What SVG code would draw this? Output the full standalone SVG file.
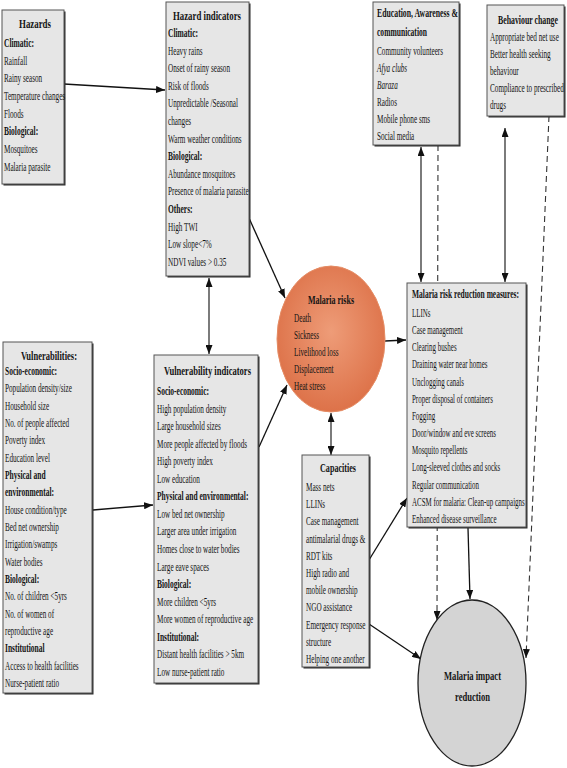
<svg xmlns="http://www.w3.org/2000/svg" width="567" height="768" viewBox="0 0 567 768">
<style>
text{font-family:"Liberation Serif","Times New Roman",serif;fill:#141414}
.t{font-size:12px}
.b{font-size:12.5px;font-weight:bold}
.i{font-style:italic}
.ttl{font-size:13px;font-weight:bold}
.box{fill:#e6e6e6;stroke:#555;stroke-width:1}
.shd{fill:#2a2a2a}
.ln{stroke:#111;stroke-width:1.3;fill:none}
.dl{stroke:#444;stroke-width:1.4;fill:none}
.ds{stroke:#333;stroke-width:1.1;fill:none;stroke-dasharray:6,4}
</style>
<defs>
<marker id="ah" markerUnits="userSpaceOnUse" markerWidth="9" markerHeight="7" refX="9" refY="3.5" orient="auto-start-reverse">
<path d="M0,0 L9,3.5 L0,7 z" fill="#111"/>
</marker>
<radialGradient id="og" cx="0.5" cy="0.45" r="0.55">
<stop offset="0" stop-color="#ee9c78"/>
<stop offset="1" stop-color="#dd7249"/>
</radialGradient>
</defs>
<rect width="567" height="768" fill="#fff"/>

<g id="connectors">
<line class="ds" x1="438" y1="145" x2="437" y2="620" marker-end="url(#ah)"/>
<line class="ds" x1="549" y1="116" x2="526" y2="658" marker-end="url(#ah)"/>
<line class="ln" x1="64" y1="84" x2="165" y2="90" marker-end="url(#ah)"/>
<line class="ln" x1="249" y1="218" x2="285" y2="298" marker-end="url(#ah)"/>
<line class="dl" x1="209" y1="278" x2="209" y2="354" marker-start="url(#ah)" marker-end="url(#ah)"/>
<line class="ln" x1="93" y1="510" x2="153" y2="505" marker-end="url(#ah)"/>
<line class="ln" x1="259" y1="447" x2="287" y2="385" marker-end="url(#ah)"/>
<line class="ln" x1="385" y1="341" x2="406" y2="340" marker-end="url(#ah)"/>
<line class="dl" x1="331" y1="413" x2="331" y2="455" marker-start="url(#ah)" marker-end="url(#ah)"/>
<line class="dl" x1="421" y1="147" x2="421" y2="282" marker-start="url(#ah)" marker-end="url(#ah)"/>
<line class="dl" x1="505" y1="128" x2="505" y2="282" marker-start="url(#ah)" marker-end="url(#ah)"/>
<line class="ln" x1="369" y1="560" x2="407" y2="498" marker-end="url(#ah)"/>
<line class="ln" x1="369" y1="624" x2="421" y2="659" marker-end="url(#ah)"/>
<line class="ln" x1="468" y1="528" x2="470" y2="599" marker-end="url(#ah)"/>
</g>

<g id="hazards">
<rect class="shd" x="3.5" y="11.5" width="62" height="174"/>
<rect class="box" x="2" y="10" width="62" height="174"/>
<g transform="translate(19,0) scale(0.6,1)"><text class="ttl" x="0" y="28" textLength="53.3" lengthAdjust="spacingAndGlyphs">Hazards</text></g>
<g transform="translate(4,0) scale(0.6,1)">
<text class="b" x="0" y="47">Climatic:</text>
<text class="t" x="0" y="64.7">Rainfall</text>
<text class="t" x="0" y="82.4">Rainy season</text>
<text class="t" x="0" y="100.1">Temperature changes</text>
<text class="t" x="0" y="117.8">Floods</text>
<text class="b" x="0" y="135.5">Biological:</text>
<text class="t" x="0" y="153.2">Mosquitoes</text>
<text class="t" x="0" y="170.9">Malaria parasite</text>
</g>
</g>

<g id="hazard-indicators">
<rect class="shd" x="167.5" y="3.5" width="83" height="274"/>
<rect class="box" x="166" y="2" width="83" height="274"/>
<g transform="translate(173,0) scale(0.6,1)"><text class="ttl" x="0" y="20" textLength="113.3" lengthAdjust="spacingAndGlyphs">Hazard indicators</text></g>
<g transform="translate(168,0) scale(0.6,1)">
<text class="b" x="0" y="37">Climatic:</text>
<text class="t" x="0" y="54.6">Heavy rains</text>
<text class="t" x="0" y="72.2">Onset of rainy season</text>
<text class="t" x="0" y="89.8">Risk of floods</text>
<text class="t" x="0" y="107.4">Unpredictable /Seasonal</text>
<text class="t" x="0" y="125">changes</text>
<text class="t" x="0" y="142.6">Warm weather conditions</text>
<text class="b" x="0" y="160.2">Biological:</text>
<text class="t" x="0" y="177.8">Abundance mosquitoes</text>
<text class="t" x="0" y="195.4">Presence of malaria parasite</text>
<text class="b" x="0" y="213">Others:</text>
<text class="t" x="0" y="230.6">High TWI</text>
<text class="t" x="0" y="248.2">Low slope&lt;7%</text>
<text class="t" x="0" y="265.8">NDVI values &gt; 0.35</text>
</g>
</g>

<g id="education">
<rect class="shd" x="374.5" y="3.5" width="86" height="143"/>
<rect class="box" x="373" y="2" width="86" height="143"/>
<g transform="translate(377,0) scale(0.6,1)">
<text class="ttl" x="0" y="17" textLength="135" lengthAdjust="spacingAndGlyphs">Education, Awareness &amp;</text>
<text class="ttl" x="0" y="36" textLength="83.3" lengthAdjust="spacingAndGlyphs">communication</text>
<text class="t" x="0" y="55">Community volunteers</text>
<text class="t i" x="0" y="72.1">Afya clubs</text>
<text class="t i" x="0" y="89.2">Baraza</text>
<text class="t" x="0" y="106.3">Radios</text>
<text class="t" x="0" y="123.4">Mobile phone sms</text>
<text class="t" x="0" y="140.5">Social media</text>
</g>
</g>

<g id="behaviour-change">
<rect class="shd" x="488.5" y="6.5" width="77" height="111"/>
<rect class="box" x="487" y="5" width="77" height="111"/>
<g transform="translate(498,0) scale(0.6,1)"><text class="ttl" x="0" y="24" textLength="100" lengthAdjust="spacingAndGlyphs">Behaviour change</text></g>
<g transform="translate(490,0) scale(0.6,1)">
<text class="t" x="0" y="41">Appropriate bed net use</text>
<text class="t" x="0" y="58">Better health seeking</text>
<text class="t" x="0" y="75">behaviour</text>
<text class="t" x="0" y="92">Compliance to prescribed</text>
<text class="t" x="0" y="109">drugs</text>
</g>
</g>

<g id="vulnerabilities">
<rect class="shd" x="4.5" y="343.5" width="89" height="351"/>
<rect class="box" x="3" y="342" width="89" height="351"/>
<g transform="translate(21,0) scale(0.6,1)"><text class="ttl" x="0" y="360" textLength="93.3" lengthAdjust="spacingAndGlyphs">Vulnerabilities:</text></g>
<g transform="translate(5,0) scale(0.6,1)">
<text class="b" x="0" y="375">Socio-economic:</text>
<text class="t" x="0" y="392.3">Population density/size</text>
<text class="t" x="0" y="409.7">Household size</text>
<text class="t" x="0" y="427">No. of people affected</text>
<text class="t" x="0" y="444.3">Poverty index</text>
<text class="t" x="0" y="461.7">Education level</text>
<text class="b" x="0" y="479">Physical and</text>
<text class="b" x="0" y="496.3">environmental:</text>
<text class="t" x="0" y="513.6">House condition/type</text>
<text class="t" x="0" y="531">Bed net ownership</text>
<text class="t" x="0" y="548.3">Irrigation/swamps</text>
<text class="t" x="0" y="565.6">Water bodies</text>
<text class="b" x="0" y="583">Biological:</text>
<text class="t" x="0" y="600.3">No. of children &lt;5yrs</text>
<text class="t" x="0" y="617.6">No. of women of</text>
<text class="t" x="0" y="635">reproductive age</text>
<text class="b" x="0" y="652.3">Institutional</text>
<text class="t" x="0" y="669.6">Access to health facilities</text>
<text class="t" x="0" y="687">Nurse-patient ratio</text>
</g>
</g>

<g id="vulnerability-indicators">
<rect class="shd" x="155.5" y="356.5" width="104" height="328"/>
<rect class="box" x="154" y="355" width="104" height="328"/>
<g transform="translate(164,0) scale(0.6,1)"><text class="ttl" x="0" y="375" textLength="145" lengthAdjust="spacingAndGlyphs">Vulnerability indicators</text></g>
<g transform="translate(157,0) scale(0.6,1)">
<text class="b" x="0" y="395">Socio-economic:</text>
<text class="t" x="0" y="412.6">High population density</text>
<text class="t" x="0" y="430.1">Large household sizes</text>
<text class="t" x="0" y="447.7">More people affected by floods</text>
<text class="t" x="0" y="465.2">High poverty index</text>
<text class="t" x="0" y="482.8">Low education</text>
<text class="b" x="0" y="500.4">Physical and environmental:</text>
<text class="t" x="0" y="517.9">Low bed net ownership</text>
<text class="t" x="0" y="535.5">Larger area under irrigation</text>
<text class="t" x="0" y="553">Homes close to water bodies</text>
<text class="t" x="0" y="570.6">Large eave spaces</text>
<text class="b" x="0" y="588.2">Biological:</text>
<text class="t" x="0" y="605.7">More children &lt;5yrs</text>
<text class="t" x="0" y="623.3">More women of reproductive age</text>
<text class="b" x="0" y="640.8">Institutional:</text>
<text class="t" x="0" y="658.4">Distant health facilities &gt; 5km</text>
<text class="t" x="0" y="676">Low nurse-patient ratio</text>
</g>
</g>

<g id="malaria-risks">
<ellipse cx="331" cy="339" rx="54" ry="73" fill="url(#og)" stroke="#e58c64" stroke-width="1"/>
<g transform="translate(308,0) scale(0.6,1)"><text class="ttl" x="0" y="304" textLength="76.7" lengthAdjust="spacingAndGlyphs">Malaria risks</text></g>
<g transform="translate(294,0) scale(0.6,1)">
<text class="t" x="0" y="322">Death</text>
<text class="t" x="0" y="339">Sickness</text>
<text class="t" x="0" y="356">Livelihood loss</text>
<text class="t" x="0" y="373">Displacement</text>
<text class="t" x="0" y="390">Heat stress</text>
</g>
</g>

<g id="risk-reduction-measures">
<rect class="shd" x="408.5" y="284.5" width="119" height="244"/>
<rect class="box" x="407" y="283" width="119" height="244"/>
<g transform="translate(412,0) scale(0.6,1)"><text class="ttl" x="0" y="298" textLength="178.3" lengthAdjust="spacingAndGlyphs">Malaria risk reduction measures:</text></g>
<g transform="translate(412,0) scale(0.58,1)">
<text class="t" x="0" y="317">LLINs</text>
<text class="t" x="0" y="334.2">Case management</text>
<text class="t" x="0" y="351.3">Clearing bushes</text>
<text class="t" x="0" y="368.5">Draining water near homes</text>
<text class="t" x="0" y="385.7">Unclogging canals</text>
<text class="t" x="0" y="402.8">Proper disposal of containers</text>
<text class="t" x="0" y="420">Fogging</text>
<text class="t" x="0" y="437.2">Door/window and eve screens</text>
<text class="t" x="0" y="454.3">Mosquito repellents</text>
<text class="t" x="0" y="471.5">Long-sleeved clothes and socks</text>
<text class="t" x="0" y="488.7">Regular communication</text>
<text class="t" x="0" y="505.8">ACSM for malaria: Clean-up campaigns</text>
<text class="t" x="0" y="523">Enhanced disease surveillance</text>
</g>
</g>

<g id="capacities">
<rect class="shd" x="303.5" y="456.5" width="67" height="212"/>
<rect class="box" x="302" y="455" width="67" height="212"/>
<g transform="translate(320,0) scale(0.6,1)"><text class="ttl" x="0" y="472" textLength="60" lengthAdjust="spacingAndGlyphs">Capacities</text></g>
<g transform="translate(306,0) scale(0.6,1)">
<text class="t" x="0" y="491">Mass nets</text>
<text class="t" x="0" y="508.2">LLINs</text>
<text class="t" x="0" y="525.4">Case management</text>
<text class="t" x="0" y="542.6">antimalarial drugs  &amp;</text>
<text class="t" x="0" y="559.8">RDT kits</text>
<text class="t" x="0" y="577">High radio and</text>
<text class="t" x="0" y="594.2">mobile ownership</text>
<text class="t" x="0" y="611.4">NGO assistance</text>
<text class="t" x="0" y="628.6">Emergency response</text>
<text class="t" x="0" y="645.8">structure</text>
<text class="t" x="0" y="663">Helping one another</text>
</g>
</g>

<g id="malaria-impact-reduction">
<ellipse cx="472" cy="683" rx="54" ry="83" fill="#d4d4d4" stroke="#222" stroke-width="1.3"/>
<g transform="translate(444,0) scale(0.6,1)"><text class="ttl" x="0" y="680" textLength="95" lengthAdjust="spacingAndGlyphs">Malaria impact</text></g>
<g transform="translate(455,0) scale(0.6,1)"><text class="ttl" x="0" y="701" textLength="58.3" lengthAdjust="spacingAndGlyphs">reduction</text></g>
</g>
</svg>
